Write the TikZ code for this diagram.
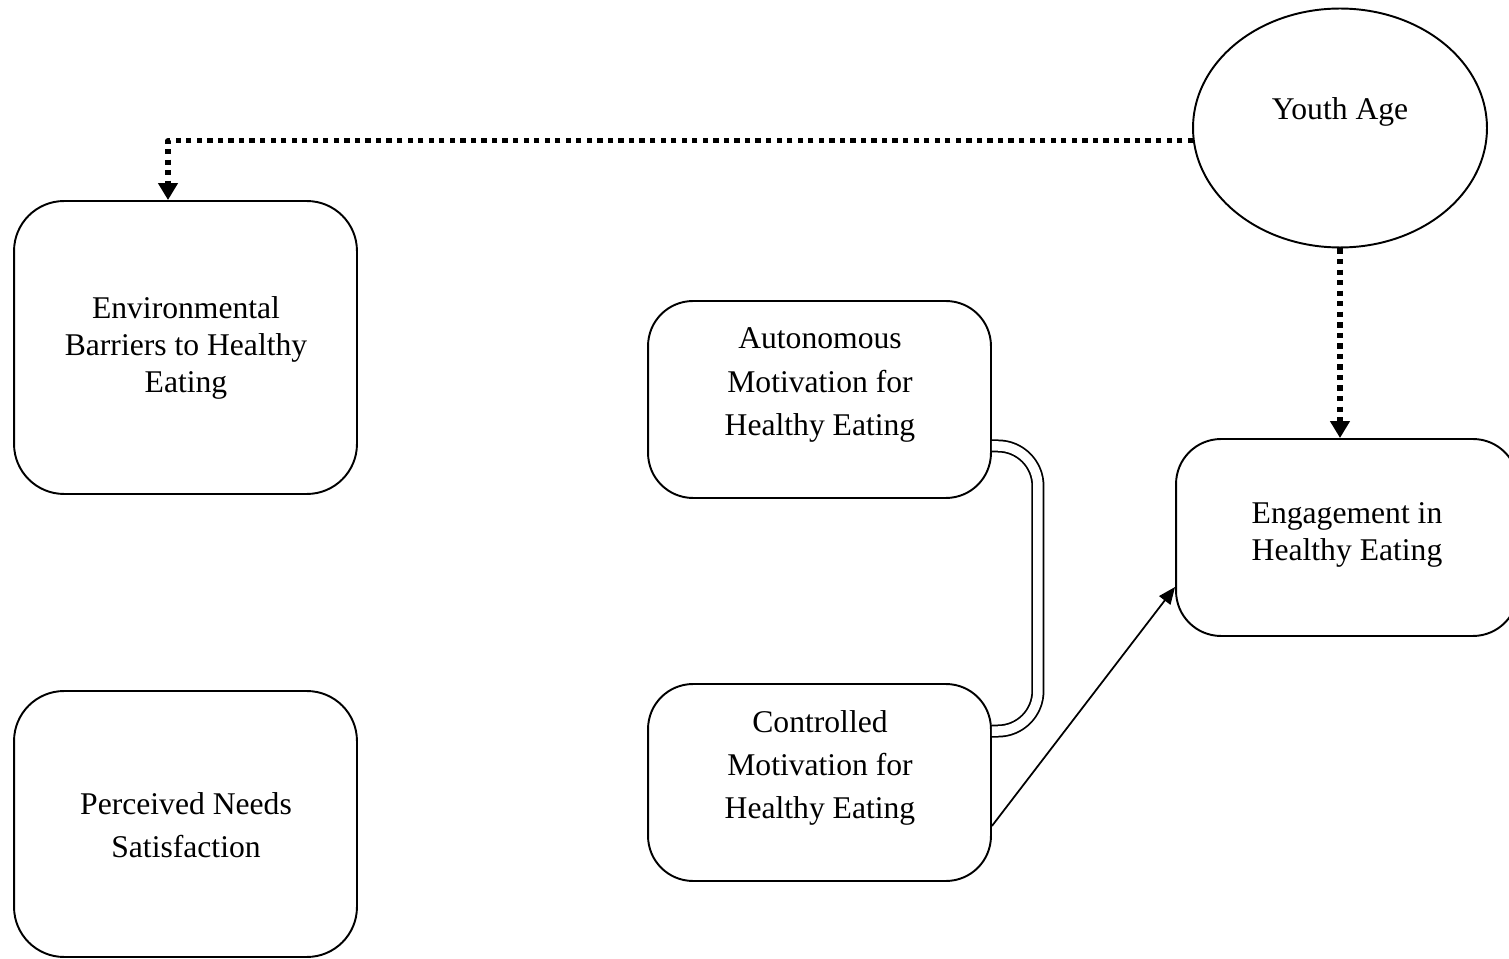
\documentclass[tikz,border=0pt]{standalone}
\usepackage{fontspec}
\setmainfont{Liberation Serif}
\usetikzlibrary{shapes.geometric,arrows.meta}
\begin{document}
\begin{tikzpicture}[x=0.02cm, y=-0.02cm, line join=round,
	box/.style={draw, line width=1.1pt, rounded corners=0.9cm, minimum width=6.86cm, minimum height=3.94cm},
	txt/.style={align=center, font=\fontsize{18}{24.5}\selectfont},
	dotarrow/.style={line width=2.9pt, dash pattern=on 3pt off 3pt, -{Triangle[width=0.38cm,length=0.34cm]}},
	dbl/.style={line width=1pt, double, double distance=0.19cm, rounded corners=0.8cm}]
	\useasboundingbox (0,0) rectangle (1509,959);
		\node[box, minimum height=5.86cm, rounded corners=1cm] (env) at (185.5,347.5) {};
		\node[box, minimum height=5.32cm, rounded corners=1cm] (need) at (185.5,824) {};
		\node[box] (auto) at (819.5,399.5) {};
		\node[box] (ctrl) at (819.5,782.5) {};
		\node[box, minimum width=6.84cm] (eng) at (1347,537.5) {};
		\node[draw, ellipse, line width=1.1pt, minimum width=5.88cm, minimum height=4.78cm] (youth) at (1340,128) {};
	% texts
		\node[txt, font=\fontsize{18}{21}\selectfont] (envt) at (186,348) {Environmental\\Barriers to Healthy\\Eating};
		\node[txt] (needt) at (186,825) {Perceived Needs\\Satisfaction};
		\node[txt] (autot) at (820,385) {Autonomous\\Motivation for\\Healthy Eating};
		\node[txt] (ctrlt) at (820,768) {Controlled\\Motivation for\\Healthy Eating};
		\node[txt, font=\fontsize{18}{21}\selectfont] (engt) at (1347,535) {Engagement in\\Healthy Eating};
		\node[txt] (youtht) at (1340,112) {Youth Age};
	% connectors
		\draw[dotarrow] (youth.185) -| ([xshift=-0.35cm]env.north);
		\draw[dotarrow] (youth.south) -- (youth.south |- eng.north);
		\draw[dbl] ([yshift=-0.93cm]auto.east) -- ++(46,0) |- ([yshift=1.03cm]ctrl.east);
		\draw[line width=1pt, -{Triangle[width=0.28cm,length=0.34cm]}] ([yshift=-0.87cm]ctrl.east) -- ([yshift=-0.99cm]eng.west);
\end{tikzpicture}
\end{document}
